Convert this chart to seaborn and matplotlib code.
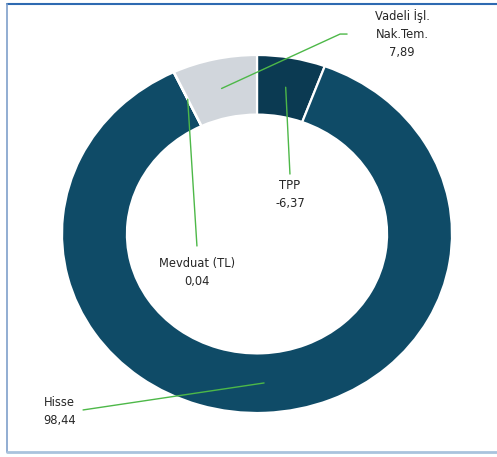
import numpy as np
import matplotlib
matplotlib.use("Agg")
import matplotlib.pyplot as plt
from matplotlib.lines import Line2D
import seaborn as sns

# data
labels = ["TPP", "Hisse", "Mevduat (TL)", "Vadeli İşl.\nNak.Tem."]
values = [-6.37, 98.44, 0.04, 7.89]
colors = ["#0B3A52", "#0F4B67", "#2B7BA3", "#D1D6DC"]

# label text centres (data coords of the unit pie) and leader line elbows
label_pos = [(0.169, 0.223), (-1.015, -0.994), (-0.308, -0.215), (0.744, 1.117)]
line_ends = [[(0.169, 0.335)], [(-0.892, -0.983)], [(-0.308, -0.067)],
             [(0.426, 1.117), (0.462, 1.117)]]

sns.set_theme(style="white")
plt.rcParams["font.family"] = ["DejaVu Sans"]

fig = plt.figure(figsize=(4.97, 4.57), dpi=100)
ax = fig.add_axes([62 / 497, 44 / 457, 390 / 497, 358 / 457])

sizes = np.abs(values)
wedges, _ = ax.pie(sizes, colors=colors, startangle=90, counterclock=False,
                   radius=1.0,
                   wedgeprops=dict(width=0.333, edgecolor="white", linewidth=1.6))
ax.set_aspect("auto")
ax.set_xlim(-1, 1)
ax.set_ylim(-1, 1)
ax.axis("off")

def fmt(v):
    return f"{v:.2f}".replace(".", ",")

green = "#4DB848"
for w, lab, v, pos, ends in zip(wedges, labels, values, label_pos, line_ends):
    mid = np.deg2rad((w.theta1 + w.theta2) / 2)
    r = 0.833
    start = (r * np.cos(mid), r * np.sin(mid))
    pts = [start] + ends
    xs = [p[0] for p in pts]
    ys = [p[1] for p in pts]
    ax.plot(xs, ys, color=green, lw=1.0, clip_on=False, zorder=3)
    ax.text(pos[0], pos[1], f"{lab}\n{fmt(v)}", ha="center", va="center",
            multialignment="center", fontsize=8.3, color="#262626",
            linespacing=1.5, clip_on=False, zorder=4)

# frame lines of the panel
fig.add_artist(Line2D([7 / 497, 1], [1 - 4 / 457, 1 - 4 / 457],
                      transform=fig.transFigure, color="#2E6AB1", lw=1.5))
fig.add_artist(Line2D([7 / 497, 7 / 497], [1 - 4 / 457, 1 - 452 / 457],
                      transform=fig.transFigure, color="#7F9FCB", lw=1.2))
fig.add_artist(Line2D([7 / 497, 1], [1 - 452 / 457, 1 - 452 / 457],
                      transform=fig.transFigure, color="#A9C3DD", lw=2.0))

fig.savefig("out.png", dpi=100)
